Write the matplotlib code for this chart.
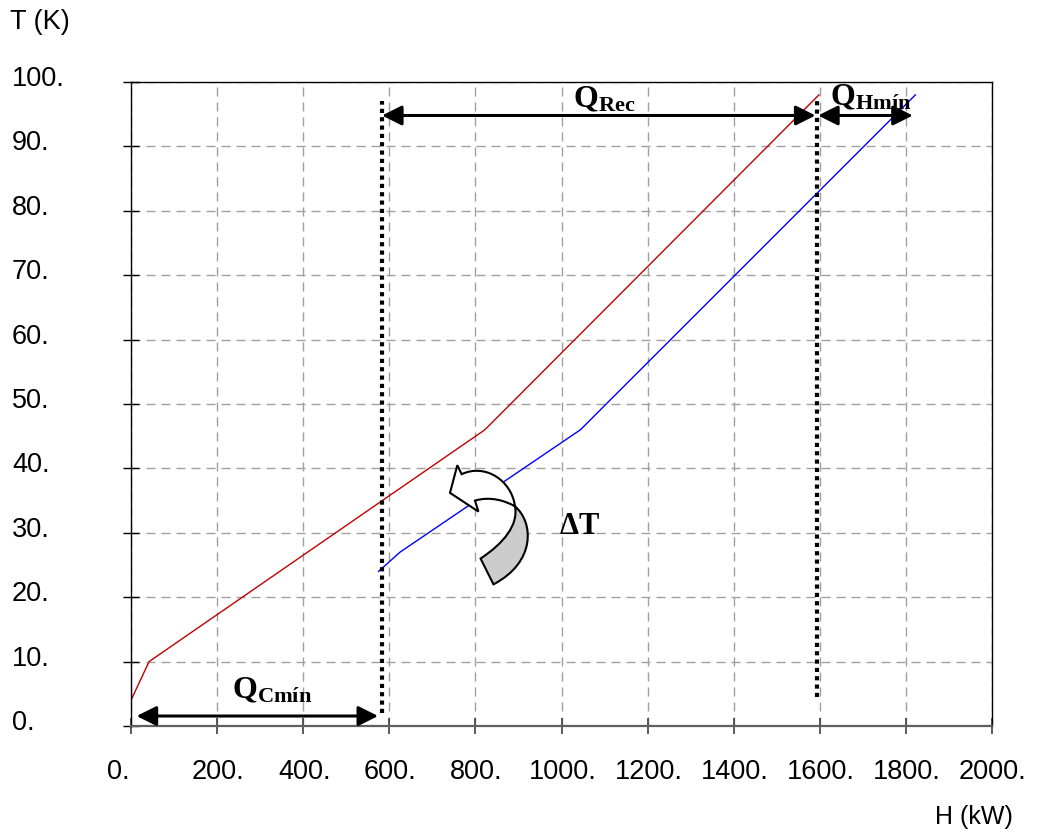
import matplotlib
matplotlib.use("Agg")
import matplotlib.pyplot as plt
from matplotlib.path import Path
from matplotlib.patches import PathPatch
from matplotlib.transforms import ScaledTranslation

plt.rcParams["font.family"] = ["Liberation Sans", "DejaVu Sans"]
plt.rcParams["mathtext.fontset"] = "custom"
plt.rcParams["mathtext.rm"] = "Liberation Serif"
plt.rcParams["mathtext.bf"] = "Liberation Serif:bold"

# hot composite curve (red) and cold composite curve (blue)
hot_h = [0, 42, 822, 1598]
hot_t = [4, 10, 46, 98]
cold_h = [575, 625, 1044, 1822]
cold_t = [24, 27, 46, 98]

x_ticks = [0, 200, 400, 600, 800, 1000, 1200, 1400, 1600, 1800, 2000]
y_ticks = [0, 10, 20, 30, 40, 50, 60, 70, 80, 90, 100]
x_labels = ["0.", "200.", "400.", "600.", "800.", "1000.", "1200.", "1400.", "1600.", "1800.", "2000."]
y_labels = ["0.", "10.", "20.", "30.", "40.", "50.", "60.", "70.", "80.", "90.", "100."]

# pinch limits (dotted lines) and energy targets
q_cmin_h = (13, 574)
q_rec_h = (583, 1590)
q_hmin_h = (1596, 1816)
pinch_left = 582
pinch_right = 1593

fig = plt.figure(figsize=(10.42, 8.3), dpi=100)
ax = fig.add_axes([131 / 1042, 104 / 830, 861 / 1042, 644 / 830])

ax.plot(hot_h, hot_t, color="#c00000", lw=1)
ax.plot(cold_h, cold_t, color="#0000ff", lw=1)

ax.set_xlim(0, 2000)
ax.set_ylim(0, 100)

grid_style = dict(color="#a0a0a0", lw=1, linestyle=(0, (6.5, 4.3)))
ax.grid(True, **grid_style)
ax.set_axisbelow(True)

ax.set_xticks(x_ticks, x_labels, fontsize=19.5)
ax.set_yticks(y_ticks, y_labels, fontsize=19.5, ha="left")
ax.tick_params(axis="y", direction="inout", length=12, width=1, pad=79.7, colors="black")
ax.tick_params(axis="x", direction="inout", length=11.5, width=1.2, pad=18, color="#404040")
for lab in ax.get_yticklabels():
    lab.set_transform(lab.get_transform() + ScaledTranslation(0, 6 / 100, fig.dpi_scale_trans))
for i, lab in enumerate(ax.get_xticklabels()):
    dx = -13 if i == 0 else 1
    lab.set_transform(lab.get_transform() + ScaledTranslation(dx / 100, 0, fig.dpi_scale_trans))

for side in ["top", "right", "left"]:
    ax.spines[side].set_color("black")
    ax.spines[side].set_linewidth(1)
ax.spines["bottom"].set_color("#606060")
ax.spines["bottom"].set_linewidth(1.6)

# pinch dotted lines
ax.plot([pinch_left, pinch_left], [2, 97], color="black", lw=3, linestyle=(0, (1, 1)),
        solid_capstyle="butt", dash_capstyle="butt")
ax.plot([pinch_right, pinch_right], [4.5, 97], color="black", lw=3, linestyle=(0, (1, 1)),
        solid_capstyle="butt", dash_capstyle="butt")

arrow_props = dict(arrowstyle="<|-|>,head_length=0.8,head_width=0.4", mutation_scale=15,
                   lw=2.2, color="black", shrinkA=0, shrinkB=0)
ax.annotate("", xy=(q_rec_h[1], 94.8), xytext=(q_rec_h[0], 94.8), arrowprops=arrow_props)
ax.annotate("", xy=(q_hmin_h[1], 94.8), xytext=(q_hmin_h[0], 94.8), arrowprops=arrow_props)
ax.annotate("", xy=(q_cmin_h[1], 1.55), xytext=(q_cmin_h[0], 1.55), arrowprops=arrow_props)

ax.text(1027, 96.1, r"$\mathbf{Q_{Rec}}$", fontsize=23, ha="left", va="baseline")
ax.text(1624, 96.4, r"$\mathbf{Q_{Hmín}}$", fontsize=23, ha="left", va="baseline")
ax.text(235, 4.3, r"$\mathbf{Q_{Cmín}}$", fontsize=23, ha="left", va="baseline")
ax.text(994, 29.8, r"$\mathbf{\Delta T}$", fontsize=22, ha="left", va="baseline")

# curved "delta T" arrow (white head part + grey twisted tail)
white_verts = [
    (741, 36.2), (758, 40.5), (768, 39.1),
    (822, 40.8), (884, 38.2), (892, 34.1),
    (869, 35.0), (834, 35.7), (799, 35.0),
    (807, 33.3), (741, 36.2),
]
white_codes = [Path.MOVETO, Path.LINETO, Path.LINETO,
               Path.CURVE4, Path.CURVE4, Path.CURVE4,
               Path.CURVE4, Path.CURVE4, Path.CURVE4,
               Path.LINETO, Path.CLOSEPOLY]
grey_verts = [
    (892, 34.1), (936, 31.6), (940, 25.4), (842, 22.0),
    (812, 26.0), (866, 28.4), (900, 31.2), (892, 34.1),
    (892, 34.1),
]
grey_codes = [Path.MOVETO, Path.CURVE4, Path.CURVE4, Path.CURVE4,
              Path.LINETO, Path.CURVE4, Path.CURVE4, Path.CURVE4,
              Path.CLOSEPOLY]
ax.add_patch(PathPatch(Path(grey_verts, grey_codes), facecolor="#cccccc", edgecolor="black", lw=1.5, zorder=5))
ax.add_patch(PathPatch(Path(white_verts, white_codes), facecolor="white", edgecolor="black", lw=1.5, zorder=5))

fig.text(10 / 1042, 1 - 22 / 830, "T (K)", fontsize=19.5, ha="left", va="center")
fig.text(935 / 1042, 1 - 817 / 830, "H (kW)", fontsize=18, ha="left", va="center")

fig.savefig("out.png", dpi=100)
